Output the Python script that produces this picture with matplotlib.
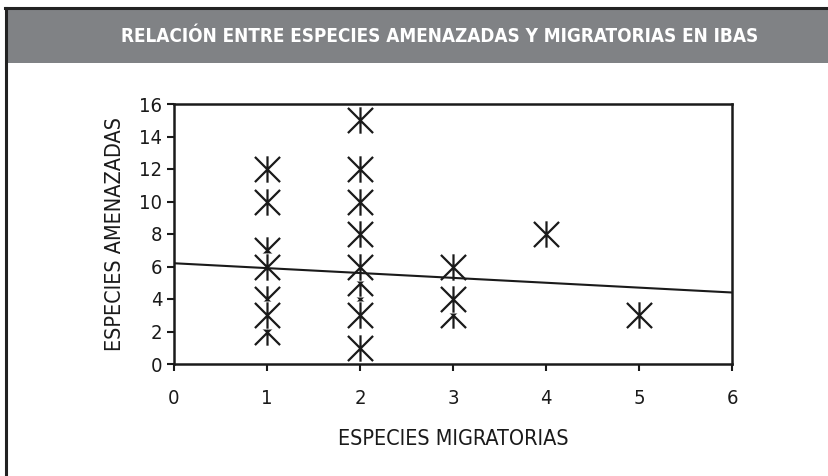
import numpy as np
import matplotlib
matplotlib.use("Agg")
import matplotlib.pyplot as plt
from matplotlib.path import Path
from matplotlib.patches import Rectangle
from matplotlib.lines import Line2D

plt.rcParams['font.family'] = ['DejaVu Sans']
plt.rcParams['font.stretch'] = 'condensed'

# data (draw order matters: later points cover earlier ones)
migratorias = [1, 1, 1, 1, 1, 1, 1,
               2, 2, 2, 2, 2, 2, 2, 2, 2,
               3, 3, 3,
               4,
               5]
amenazadas = [12, 10, 7, 6, 4, 2, 3,
              15, 12, 10, 8, 4, 5, 6, 3, 1,
              3, 4, 6,
              8,
              3]

# linear trend as drawn on the chart (value at x=0 and at x=6)
trend_x = [0, 6]
trend_y = [6.2, 4.4]

title = "RELACIÓN ENTRE ESPECIES AMENAZADAS Y MIGRATORIAS EN IBAS"
xlabel = "ESPECIES MIGRATORIAS"
ylabel = "ESPECIES AMENAZADAS"
xticks = [0, 1, 2, 3, 4, 5, 6]
yticks = [0, 2, 4, 6, 8, 10, 12, 14, 16]

# excel style star: X with a vertical bar
star = Path([(0, 0), (1, 1), (0, 0), (-1, 1), (0, 0), (1, -1), (0, 0), (-1, -1),
             (0, -1.05), (0, 1.05)],
            [Path.MOVETO, Path.LINETO, Path.MOVETO, Path.LINETO, Path.MOVETO, Path.LINETO,
             Path.MOVETO, Path.LINETO, Path.MOVETO, Path.LINETO])

fig = plt.figure(figsize=(8.29, 4.76), dpi=100, facecolor='white')

# header band and frame
fig.patches.append(Rectangle((8 / 829, 1 - 63 / 476), 1, 54 / 476, transform=fig.transFigure,
                             facecolor='#808285', edgecolor='none', zorder=0))
fig.lines.append(Line2D([5.5 / 829, 1], [1 - 8 / 476, 1 - 8 / 476], transform=fig.transFigure,
                        color='#222222', lw=2.2))
fig.lines.append(Line2D([6.5 / 829, 6.5 / 829], [0, 1 - 8 / 476], transform=fig.transFigure,
                        color='#222222', lw=2.2))
fig.text(440 / 829, 1 - 36 / 476, title, color='white', fontsize=13.6, fontweight='bold',
         ha='center', va='center')

ax = fig.add_axes([174 / 829, 1 - 364 / 476, (732 - 174) / 829, (364 - 104) / 476])
ax.set_zorder(2)

z = 3
for xv, yv in zip(migratorias, amenazadas):
    ax.plot([xv], [yv], marker='s', ms=19.5, mfc='white', mec='none', ls='none', zorder=z,
            clip_on=False, antialiased=False)
    ax.plot([xv], [yv], marker=star, ms=19, mew=1.6, color='#1a1a1a', ls='none', zorder=z + 1,
            clip_on=False)
    z += 2

ax.plot(trend_x, trend_y, color='#1a1a1a', lw=1.5, zorder=z + 1)

ax.set_xlim(0, 6)
ax.set_ylim(0, 16)
ax.set_xticks(xticks)
ax.set_yticks(yticks)
ax.tick_params(direction='out', length=5, width=1.5, color='#1a1a1a', labelsize=14.5,
               labelcolor='#1a1a1a')
ax.tick_params(axis='x', pad=13)
for s in ax.spines.values():
    s.set_linewidth(1.8)
    s.set_color('#1a1a1a')
ax.set_xlabel(xlabel, fontsize=15.5, color='#1a1a1a', labelpad=15)
ax.set_ylabel(ylabel, fontsize=15.5, color='#1a1a1a', labelpad=10)

fig.savefig("out.png", dpi=100)
